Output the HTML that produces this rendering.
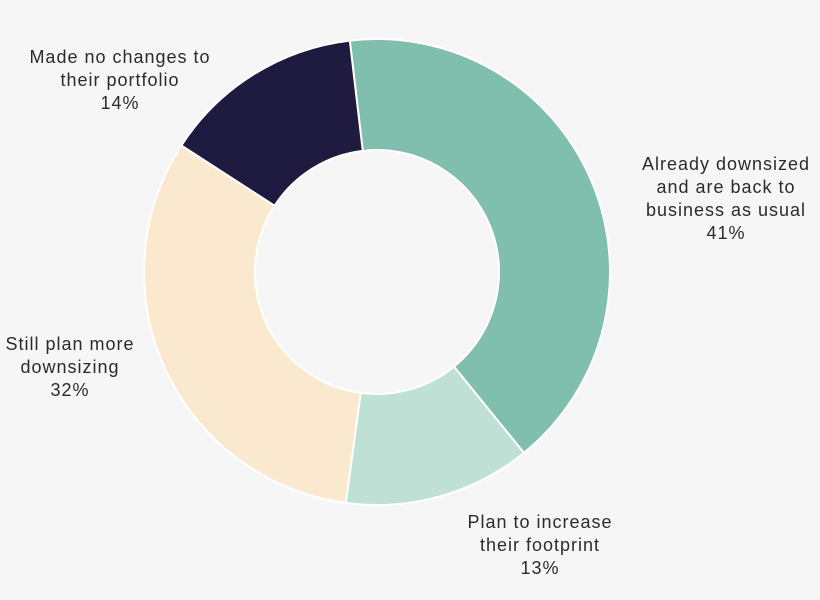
<!DOCTYPE html>
<html><head><meta charset="utf-8"><style>
html,body{margin:0;padding:0;background:#f6f6f6;}
svg{display:block;font-family:"Liberation Sans",sans-serif;}
text{fill:#2b2b2b;font-size:18px;letter-spacing:1px;}
</style></head><body>
<svg id="chart" width="820" height="600" viewBox="0 0 820 600">
<rect width="820" height="600" fill="#f6f6f6"/>
<g id="slices"></g>
<g id="labels"></g>
</svg>
<script>
const categories = ["Already downsized and are back to business as usual","Plan to increase their footprint","Still plan more downsizing","Made no changes to their portfolio"];
const values = [41,13,32,14];
const colors = ["#80bead","#bfe0d5","#fbe9cf","#1e1a40"];
const labelLines = [["Already downsized","and are back to","business as usual"],["Plan to increase","their footprint"],["Still plan more","downsizing"],["Made no changes to","their portfolio"]];
const labelPos = [[726,170],[540,528],[70,350],[120,63]];
const cx=377, cy=272, R=233, r=122, startDeg=-6.7;
const NS="http://www.w3.org/2000/svg";
const total = values.reduce((a,b)=>a+b,0);
function pt(deg,rad){const a=(deg-90)*Math.PI/180;return [cx+rad*Math.cos(a),cy+rad*Math.sin(a)];}
let ang=startDeg;
const gS=document.getElementById('slices'), gL=document.getElementById('labels');
values.forEach((v,i)=>{
  const sweep=v/total*360, a0=ang, a1=ang+sweep; ang=a1;
  const large=sweep>180?1:0;
  const [x0,y0]=pt(a0,R),[x1,y1]=pt(a1,R),[x2,y2]=pt(a1,r),[x3,y3]=pt(a0,r);
  const p=document.createElementNS(NS,'path');
  p.setAttribute('d',`M${x0},${y0}A${R},${R} 0 ${large} 1 ${x1},${y1}L${x2},${y2}A${r},${r} 0 ${large} 0 ${x3},${y3}Z`);
  p.setAttribute('fill',colors[i]);p.setAttribute('stroke','#ffffff');p.setAttribute('stroke-width','2');
  
  
  gS.appendChild(p);
  const t=document.createElementNS(NS,'text');
  t.setAttribute('text-anchor','middle');
  
  
  const lines=labelLines[i].concat([v+'%']);
  lines.forEach((ln,j)=>{const s=document.createElementNS(NS,'tspan');s.setAttribute('x',labelPos[i][0]);s.setAttribute('y',labelPos[i][1]+j*23);s.textContent=ln;t.appendChild(s);});
  gL.appendChild(t);
});
</script>
</body></html>
